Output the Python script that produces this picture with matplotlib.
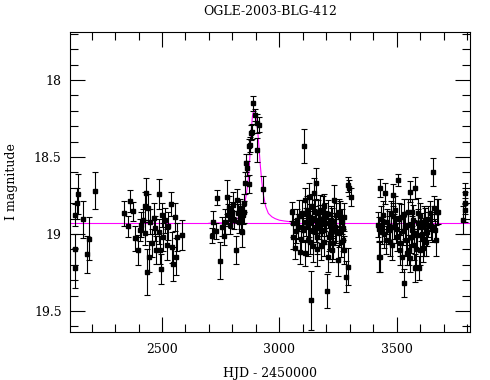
import matplotlib
matplotlib.use('Agg')
import matplotlib.pyplot as plt
from matplotlib.ticker import MultipleLocator

# OGLE-2003-BLG-412, I band photometry (HJD - 2450000, mag, error)
# split by observing season
t1 = [2128, 2130, 2130, 2138, 2142, 2165, 2179, 2189, 2214]
m1 = [19.22, 19.10, 18.877, 18.80, 18.742, 18.905, 19.13, 19.03, 18.72]
e1 = [0.13, 0.10, 0.07, 0.10, 0.13, 0.12, 0.12, 0.14, 0.12]

t2 = [2337, 2354, 2364, 2375, 2385, 2398, 2405, 2409, 2419, 2426, 2429, 2433,
      2437, 2440, 2445, 2450, 2457, 2465, 2470, 2473, 2486, 2487, 2491, 2494,
      2500, 2504, 2511, 2520, 2526, 2537, 2544, 2548, 2554, 2558, 2565, 2585]
m2 = [18.866, 18.95, 18.786, 18.853, 19.028, 19.104, 18.974, 18.94, 18.91, 18.82, 18.99, 18.736,
      19.245, 18.833, 19.147, 18.92, 19.06, 18.898, 18.963, 19.104, 18.74, 18.985, 19.104, 19.227,
      18.877, 19.02, 18.91, 19.07, 18.95, 18.805, 19.087, 19.195, 18.888, 19.147, 19.017, 19.006]
e2 = [0.08, 0.07, 0.07, 0.06, 0.08, 0.10, 0.07, 0.08, 0.07, 0.09, 0.08, 0.10,
      0.15, 0.09, 0.10, 0.08, 0.09, 0.10, 0.08, 0.09, 0.10, 0.08, 0.09, 0.10,
      0.08, 0.09, 0.08, 0.10, 0.09, 0.08, 0.10, 0.11, 0.09, 0.12, 0.09, 0.10]

t3 = [2712, 2719, 2729, 2736, 2749, 2756, 2764, 2769, 2776, 2781, 2786, 2790, 2795,
      2800, 2804, 2808, 2814, 2818, 2822, 2828, 2833, 2837, 2840, 2844, 2848, 2851,
      2854, 2858, 2862, 2870, 2872, 2874, 2878, 2882, 2887, 2895, 2904, 2905, 2912, 2929]
m3 = [19.01, 18.92, 18.98, 18.764, 19.173, 18.952, 19.01, 18.92, 18.758, 18.877, 18.833, 18.94, 18.888,
      18.855, 18.81, 18.91, 19.104, 18.78, 18.866, 18.92, 18.833, 18.898, 18.985, 18.877, 18.855, 18.80,
      18.67, 18.54, 18.573, 18.675, 18.43, 18.42, 18.342, 18.335, 18.152, 18.227, 18.281, 18.455, 18.29, 18.71]
e3 = [0.05, 0.07, 0.05, 0.05, 0.12, 0.06, 0.06, 0.08, 0.11, 0.07, 0.08, 0.06, 0.07,
      0.06, 0.08, 0.06, 0.09, 0.07, 0.06, 0.07, 0.06, 0.07, 0.10, 0.06, 0.07, 0.06,
      0.07, 0.06, 0.05, 0.06, 0.05, 0.05, 0.05, 0.05, 0.05, 0.04, 0.06, 0.08, 0.05, 0.09]

t4 = [3053, 3060, 3067, 3074, 3081, 3088, 3096, 3102, 3105, 3108, 3111, 3117, 3121,
      3125, 3128, 3132, 3135, 3138, 3142, 3147, 3152, 3155, 3160, 3164, 3168, 3174,
      3178, 3182, 3188, 3192, 3196, 3202, 3206, 3211, 3216, 3220, 3226, 3232, 3237,
      3243, 3249, 3255, 3260, 3266, 3272, 3277, 3284, 3292, 3294, 3298, 3303,
      3058, 3071, 3085, 3093, 3099, 3114, 3119, 3130, 3140, 3145, 3150, 3158, 3162,
      3171, 3176, 3185, 3190, 3199, 3209, 3214, 3223, 3229, 3240, 3252, 3263, 3269, 3275]
m4 = [18.855, 19.017, 19.093, 18.91, 18.952, 19.115, 18.866, 18.974, 18.426, 19.125, 18.78, 18.844, 19.04,
      18.93, 18.758, 18.888, 19.43, 18.82, 18.974, 18.736, 18.91, 18.67, 19.017, 18.866, 18.952, 18.844,
      19.08, 18.91, 18.82, 18.974, 18.888, 19.37, 19.147, 19.017, 19.017, 18.91, 19.104, 18.78, 18.952,
      18.877, 19.17, 18.995, 18.888, 18.92, 19.04, 19.104, 19.277, 19.212, 18.68, 18.70, 18.758,
      18.93, 18.98, 18.88, 19.03, 18.96, 18.92, 18.87, 19.05, 18.90, 19.08, 18.86, 18.96, 19.10,
      18.90, 18.98, 18.85, 19.05, 18.93, 18.87, 19.00, 18.92, 19.06, 18.98, 18.86, 19.05, 18.96, 18.89]
e4 = [0.06, 0.08, 0.07, 0.07, 0.08, 0.08, 0.09, 0.08, 0.11, 0.08, 0.08, 0.09, 0.10,
      0.09, 0.09, 0.08, 0.19, 0.08, 0.09, 0.10, 0.09, 0.10, 0.11, 0.09, 0.08, 0.10,
      0.09, 0.10, 0.08, 0.09, 0.09, 0.11, 0.10, 0.09, 0.08, 0.09, 0.08, 0.10, 0.09,
      0.08, 0.10, 0.09, 0.10, 0.08, 0.07, 0.09, 0.10, 0.12, 0.05, 0.05, 0.06,
      0.09, 0.08, 0.10, 0.09, 0.08, 0.09, 0.10, 0.08, 0.09, 0.10, 0.08, 0.09, 0.11,
      0.09, 0.08, 0.10, 0.09, 0.08, 0.09, 0.10, 0.09, 0.10, 0.08, 0.09, 0.10, 0.08, 0.09]

t5 = [3426, 3422, 3425, 3430, 3430, 3436, 3443, 3451, 3455, 3460, 3468, 3475, 3479,
      3483, 3489, 3493, 3501, 3506, 3512, 3518, 3522, 3529, 3535, 3540, 3546, 3552,
      3557, 3557, 3563, 3569, 3573, 3578, 3578, 3586, 3591, 3595, 3600, 3605, 3611,
      3617, 3622, 3628, 3635, 3642, 3650, 3656, 3660, 3664, 3666, 3670, 3674,
      3433, 3447, 3465, 3471, 3486, 3497, 3509, 3515, 3526, 3532, 3543, 3549, 3560,
      3566, 3575, 3582, 3589, 3598, 3608, 3614, 3625, 3632, 3646]
m5 = [18.97, 18.94, 19.147, 18.70, 19.147, 18.985, 18.877, 18.736, 19.04, 18.92, 18.974, 18.866, 19.07,
      18.747, 18.952, 18.844, 19.017, 18.65, 19.104, 18.888, 19.147, 19.32, 18.952, 19.04, 18.855, 19.104,
      18.725, 19.158, 18.974, 18.91, 19.07, 18.70, 19.22, 19.006, 18.866, 19.22, 19.104, 18.952, 19.093,
      19.04, 18.91, 18.985, 18.94, 18.866, 18.963, 18.595, 18.833, 18.974, 19.04, 18.855, 18.855,
      18.90, 19.00, 18.95, 19.05, 18.88, 18.97, 18.90, 19.06, 18.98, 18.87, 19.12, 18.94, 19.02,
      18.86, 18.99, 19.10, 18.93, 18.88, 19.00, 18.92, 19.05, 18.90, 18.95]
e5 = [0.08, 0.08, 0.10, 0.06, 0.10, 0.08, 0.09, 0.07, 0.09, 0.08, 0.09, 0.08, 0.10,
      0.07, 0.08, 0.09, 0.09, 0.04, 0.10, 0.08, 0.10, 0.09, 0.08, 0.10, 0.08, 0.10,
      0.07, 0.09, 0.09, 0.10, 0.10, 0.07, 0.09, 0.09, 0.10, 0.08, 0.10, 0.09, 0.09,
      0.10, 0.08, 0.09, 0.08, 0.08, 0.09, 0.09, 0.08, 0.07, 0.10, 0.08, 0.08,
      0.08, 0.09, 0.10, 0.09, 0.08, 0.09, 0.10, 0.08, 0.09, 0.10, 0.08, 0.09, 0.10,
      0.09, 0.08, 0.10, 0.09, 0.08, 0.09, 0.10, 0.09, 0.08, 0.09]

t6 = [3784, 3789, 3789, 3792]
m6 = [18.91, 18.844, 18.80, 18.736]
e6 = [0.09, 0.08, 0.07, 0.07]

# model fit
model_t = [2700, 2776, 2804, 2825, 2840, 2854, 2864, 2871, 2875, 2879, 2885, 2888, 2891,
           2893, 2896, 2904, 2911, 2918, 2925, 2932, 2942, 2953, 2968, 2982, 3000, 3020, 3046]
model_m = [18.93, 18.926, 18.916, 18.894, 18.855, 18.79, 18.693, 18.584, 18.476, 18.346, 18.238, 18.212, 18.197,
           18.196, 18.206, 18.281, 18.39, 18.541, 18.66, 18.747, 18.823, 18.866, 18.888, 18.90, 18.91, 18.915, 18.92]
base_mag = 18.93

plt.rcParams['font.family'] = 'DejaVu Serif'
fig = plt.figure(figsize=(4.9, 3.8), dpi=100)
ax = fig.add_axes([70/490, 48/380, 400/490, 300/380])

ax.axhline(base_mag, color='#ff00ff', linewidth=0.8, zorder=1)
ax.plot(model_t, model_m, color='#ff00ff', linewidth=0.8, zorder=2)

for t, m, e in [(t1, m1, e1), (t2, m2, e2), (t3, m3, e3), (t4, m4, e4), (t5, m5, e5), (t6, m6, e6)]:
    ax.errorbar(t, m, yerr=e, fmt='s', color='black', markersize=3,
                elinewidth=0.8, capsize=2, capthick=0.8, zorder=3)

ax.set_xlim(2108, 3812)
ax.set_ylim(19.636, 17.688)

ax.xaxis.set_major_locator(MultipleLocator(500))
ax.xaxis.set_minor_locator(MultipleLocator(100))
ax.yaxis.set_minor_locator(MultipleLocator(0.1))
ax.set_yticks([18, 18.5, 19, 19.5])
ax.set_yticklabels(['18', '18.5', '19', '19.5'])

ax.tick_params(which='both', direction='in', top=True, right=True, width=0.8, labelsize=9)
ax.tick_params(which='major', length=11, pad=8)
ax.tick_params(which='minor', length=6)
ax.tick_params(axis='y', which='major', pad=6)
for s in ax.spines.values():
    s.set_linewidth(0.8)

ax.set_title('OGLE-2003-BLG-412', fontsize=9, pad=12)
ax.set_xlabel('HJD - 2450000', fontsize=9, labelpad=8)
ax.set_ylabel('I magnitude', fontsize=9)
ax.yaxis.set_label_coords(-0.13, 0.5)

plt.savefig('out.png', dpi=100)
